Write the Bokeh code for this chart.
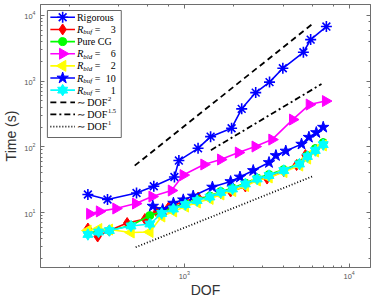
import numpy as np
from bokeh.plotting import figure
from bokeh.models import Range1d, LinearScale, LogAxis
from bokeh.embed import file_html
from bokeh.resources import INLINE
from bokeh.core.properties import value

# ---------------- data ----------------
rig_dof = [260, 342, 513, 653, 871, 927, 1212, 1444, 1936, 2230, 2712, 3290, 3962, 5280, 5845, 7280]
rig_time = [18.8, 15.8, 19.8, 25.1, 34.7, 61.8, 95, 143, 192, 379, 670, 968, 1570, 2754, 4295, 6780]

buf3_dof = [260, 298, 351, 450, 577, 680, 802, 986, 1213, 1430, 1664, 1910, 2349, 2769, 3178, 4015, 4802, 5434, 6237, 6966]
buf3_time = [5.71, 4.31, 5.32, 6.92, 7.96, 10.2, 11.9, 14.7, 16.9, 16.9, 19.8, 20.9, 24.9, 32.9, 32.9, 42.8, 52.8, 75.0, 90.9, 112]

cl_dof = [260, 302, 351, 475, 618, 729, 859, 1014, 1196, 1430, 1664, 1963, 2349, 2769, 3266, 4015, 5003, 5587, 6237, 6966]
cg_time = [4.96, 5.14, 5.32, 6.34, 9.0, 10.4, 11.9, 13.7, 15.8, 17.8, 20.9, 23.6, 28.1, 33.5, 37.9, 45.1, 55.7, 73.7, 94.1, 116]
bld2_time = [5.32, 5.61, 5.51, 4.96, 5.05, 8.69, 10.4, 12.3, 14.2, 16.1, 18.8, 21.2, 25.3, 30.7, 34.1, 41.3, 51.9, 66.3, 84.8, 105]
buf1_time = [4.63, 5.05, 5.32, 6.23, 6.68, 9.66, 11.3, 13.2, 15.2, 17.2, 20.2, 22.8, 27.2, 32.4, 36.6, 43.6, 54.7, 71.2, 87.8, 108]

bld6_dof = [267, 306, 385, 507, 638, 836, 986, 1317, 1664, 2133, 2694, 3405, 4546, 5743, 7205]
bld6_time = [9.55, 10.4, 11.5, 13.7, 17.5, 21.6, 37.2, 53.8, 64.1, 81.9, 101, 129, 260, 440, 498]

buf10_dof = [644, 739, 859, 986, 1132, 1481, 1910, 2177, 2620, 3266, 3597, 4128, 5143, 5703, 6324, 6966]
buf10_time = [12.5, 11.1, 13.9, 15.6, 17.8, 24.4, 29.6, 34.7, 43.6, 57.7, 73.7, 86.3, 110, 140, 165, 199]

ref2_dof = [500, 6000]
ref2_time = [51.7, 7450]
ref15_dof = [1450, 6800]
ref15_time = [89, 904]
ref1_dof = [507, 5960]
ref1_time = [2.96, 35.3]

x_limits = (134.1, 13485)
y_limits = (1.455, 14700)
x_label = "DOF"
y_label = "Time (s)"

# ---------------- figure ----------------
FW, FH = 335, 263
BL, BR, BT, BB = 35, 3, 4, 33
p = figure(width=BL + FW + BR, height=BT + FH + BB, x_axis_type="log", y_axis_type="log",
           x_range=x_limits, y_range=y_limits, output_backend="svg",
           toolbar_location=None, min_border_left=BL, min_border_right=BR,
           min_border_top=BT, min_border_bottom=BB)
p.grid.visible = False
p.outline_line_color = "#6e6e6e"
p.outline_line_width = 1
p.background_fill_color = "white"
p.border_fill_color = "white"

bottom = p.below[0]
left = p.left[0]
top = LogAxis()
right = LogAxis()
p.add_layout(top, "above")
p.add_layout(right, "right")

for ax in [bottom, left, top, right]:
    ax.major_tick_in = 4
    ax.major_tick_out = 0
    ax.minor_tick_in = 2
    ax.minor_tick_out = 0
    ax.axis_line_color = "#6e6e6e"
    ax.major_tick_line_color = "#6e6e6e"
    ax.minor_tick_line_color = "#6e6e6e"
    ax.major_label_text_font = "Liberation Sans"
    ax.major_label_text_font_size = "7.5px"
    ax.major_label_text_color = "#555555"
for ax in [top, right]:
    ax.major_label_text_font_size = "1px"
    ax.major_label_text_alpha = 0
    ax.major_label_standoff = 0

bottom.major_label_standoff = 3
left.major_label_standoff = 5
bottom.axis_label = x_label
left.axis_label = y_label
for ax in [bottom, left]:
    ax.axis_label_text_font = "Liberation Sans"
    ax.axis_label_text_font_size = "14px"
    ax.axis_label_text_font_style = "normal"
    ax.axis_label_text_color = "#333333"
bottom.axis_label_standoff = 0
left.axis_label_standoff = 2

# ---------------- series ----------------
BLUE, RED, GREEN, MAG, YEL, CYAN = "#0000FF", "#FF0000", "#00FF00", "#FF00FF", "#FFFF00", "#00FFFF"
LW = 1.6

def draw_marker(xs, ys, color, kind, **kw):
    if kind == "asterisk":
        p.scatter(xs, ys, marker="asterisk", size=11, line_color=color, line_width=1.6, **kw)
    elif kind == "diamond":
        p.scatter(xs, ys, marker="diamond", size=11, fill_color=color, line_color=color, **kw)
    elif kind == "circle":
        p.scatter(xs, ys, marker="circle", size=8, fill_color=color, line_color=color, **kw)
    elif kind == "tri_right":
        p.scatter(xs, ys, marker="triangle", size=11, angle=-np.pi / 2, fill_color=color, line_color=color, **kw)
    elif kind == "tri_left":
        p.scatter(xs, ys, marker="triangle", size=11, angle=np.pi / 2, fill_color=color, line_color=color, **kw)
    elif kind == "star":
        p.scatter(xs, ys, marker="star", size=12, fill_color=color, line_color=color, **kw)
    elif kind == "hexagram":
        p.scatter(xs, ys, marker="triangle", size=10, fill_color=color, line_color=color, **kw)
        p.scatter(xs, ys, marker="inverted_triangle", size=10, fill_color=color, line_color=color, **kw)

def series(xs, ys, color, kind, **kw):
    p.line(xs, ys, line_color=color, line_width=LW, **kw)
    draw_marker(xs, ys, color, kind, **kw)

series(rig_dof, rig_time, BLUE, "asterisk")
series(buf3_dof, buf3_time, RED, "diamond")
series(cl_dof, cg_time, GREEN, "circle")
series(bld6_dof, bld6_time, MAG, "tri_right")
series(cl_dof, bld2_time, YEL, "tri_left")
series(buf10_dof, buf10_time, BLUE, "star")
series(cl_dof, buf1_time, CYAN, "hexagram")

DASH2, DASH15, DASH1 = "6 4", "6 3 2 3", "1 2"
p.line(ref2_dof, ref2_time, line_color="black", line_width=1.8, line_dash=DASH2)
p.line(ref15_dof, ref15_time, line_color="black", line_width=1.8, line_dash=DASH15)
p.line(ref1_dof, ref1_time, line_color="black", line_width=1.8, line_dash=DASH1)

# ---------------- legend (frame pixel coordinates, y down) ----------------
p.extra_x_ranges = {"lx": Range1d(0, FW)}
p.extra_y_ranges = {"ly": Range1d(FH, 0)}
p.extra_x_scales = {"lx": LinearScale()}
p.extra_y_scales = {"ly": LinearScale()}
L = dict(x_range_name="lx", y_range_name="ly")

p.quad(left=[7], right=[82], top=[6], bottom=[133], fill_color="white",
       line_color="#555555", line_width=0.9, **L)

rows = [12.8 + 12.14 * i for i in range(10)]
entries = [("Rigorous", BLUE, "asterisk"), (("buf", "3"), RED, "diamond"),
           ("Pure CG", GREEN, "circle"), (("bld", "6"), MAG, "tri_right"),
           (("bld", "2"), YEL, "tri_left"), (("buf", "10"), BLUE, "star"),
           (("buf", "1"), CYAN, "hexagram")]
SERIF = value("Liberation Serif")
for (lab, col, kind), ry in zip(entries, rows):
    p.line([10, 35], [ry, ry], line_color=col, line_width=LW, **L)
    draw_marker([22.5], [ry], col, kind, **L)
    if isinstance(lab, str):
        p.text([37], [ry], text=[lab], text_font=SERIF, text_font_size="10px",
               text_baseline="middle", **L)
    else:
        sub, num = lab
        p.text([37], [ry], text=["R"], text_font=SERIF, text_font_style="italic",
               text_font_size="10.5px", text_baseline="middle", **L)
        p.text([43.5], [ry + 3], text=[sub], text_font=SERIF, text_font_style="italic",
               text_font_size="7px", text_baseline="middle", **L)
        p.text([55], [ry], text=["="], text_font=SERIF, text_font_size="10px",
               text_baseline="middle", **L)
        p.text([76.5], [ry], text=[num], text_font=SERIF, text_font_size="10px",
               text_baseline="middle", text_align="right", **L)

dash_styles = [(DASH2, "2"), (DASH15, "1.5"), (DASH1, "1")]
for (dash, sup), ry in zip(dash_styles, rows[7:]):
    p.line([10, 35], [ry, ry], line_color="black", line_width=1.8, line_dash=dash, **L)
    p.text([37], [ry], text=["\u223c"], text_font=SERIF, text_font_size="10px",
           text_baseline="middle", **L)
    p.text([47.5], [ry], text=["DOF"], text_font=SERIF, text_font_size="10px",
           text_baseline="middle", **L)
    p.text([68.5], [ry - 3.5], text=[sup], text_font=SERIF, text_font_size="6.5px",
           text_baseline="middle", **L)

open("out.html", "w").write(file_html(p, INLINE))
